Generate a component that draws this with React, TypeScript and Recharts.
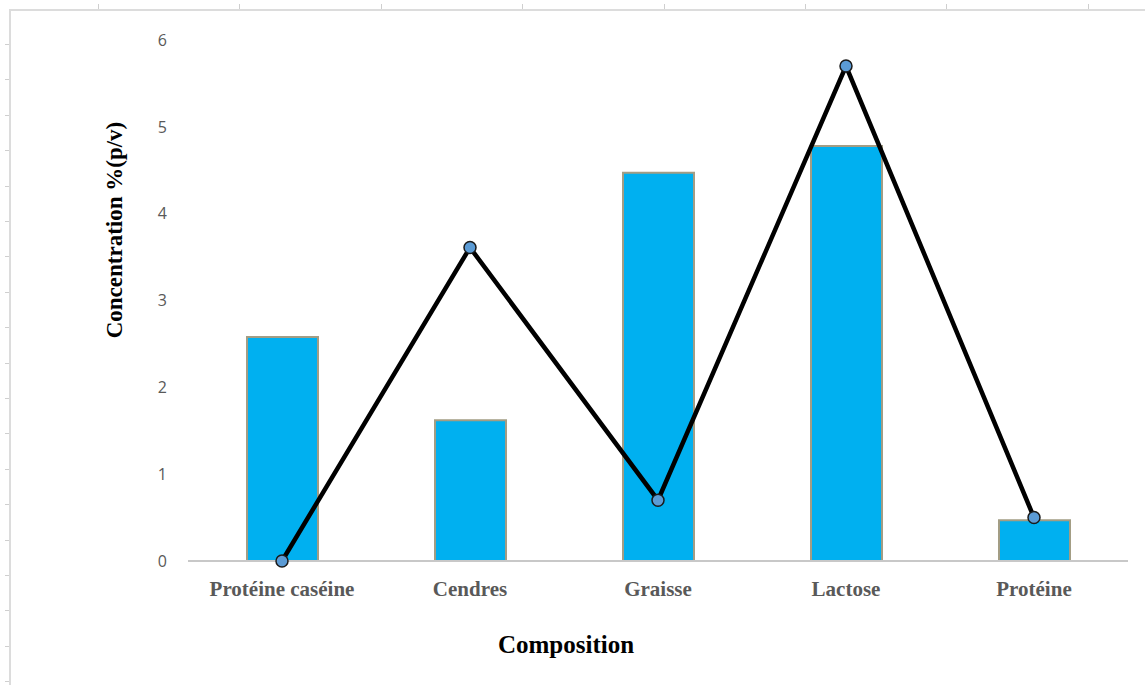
import {
  ComposedChart,
  Bar,
  Line,
  XAxis,
  YAxis,
  Label,
} from "recharts";

// milk composition, % (p/v)
const categories = ["Protéine caséine", "Cendres", "Graisse", "Lactose", "Protéine"];
const barValues = [2.58, 1.62, 4.47, 4.78, 0.47];
const lineValues = [0, 3.61, 0.7, 5.7, 0.5];
const yTicks = [0, 1, 2, 3, 4, 5, 6];

const data = categories.map((name, i) => ({
  name,
  bar: barValues[i],
  line: lineValues[i],
}));

const serif = "'Liberation Serif', 'Times New Roman', serif";

const Frame = () => (
  <>
    {/* light page frame with ruler marks */}
    <div
      style={{
        position: "absolute",
        left: 9,
        top: 9,
        width: 1136,
        height: 676,
        borderTop: "2px solid #dcdcdc",
        borderLeft: "2px solid #dcdcdc",
      }}
    />
    <div
      style={{
        position: "absolute",
        left: 98,
        top: 4,
        width: 1047,
        height: 5,
        background:
          "repeating-linear-gradient(to right, #cfcfcf 0 1px, transparent 1px 141.4px)",
      }}
    />
    <div
      style={{
        position: "absolute",
        left: 5,
        top: 44,
        width: 4,
        height: 641,
        background:
          "repeating-linear-gradient(to bottom, #cfcfcf 0 1px, transparent 1px 35.4px)",
      }}
    />
  </>
);

const App = () => {
  return (
    <div
      style={{
        position: "absolute",
        left: 0,
        top: 0,
        width: 1145,
        height: 685,
        background: "#fff",
      }}
    >
      <Frame />
      <ComposedChart
        width={1145}
        height={685}
        data={data}
        margin={{ top: 40, right: 17, left: 128, bottom: 64 }}
        style={{ position: "absolute", left: 0, top: 0 }}
      >
        <XAxis
          dataKey="name"
          height={60}
          axisLine={{ stroke: "#c8c8c8", strokeWidth: 2 }}
          tickLine={false}
          tickSize={0}
          tickMargin={20}
          interval={0}
          tick={{
            fill: "#595959",
            fontSize: 21,
            fontWeight: 700,
            fontFamily: serif,
          }}
        >
          <Label
            content={() => (
              <text
                x={566}
                y={653}
                textAnchor="middle"
                fill="#000"
                fontSize={25}
                fontWeight={700}
                fontFamily={serif}
              >
                Composition
              </text>
            )}
          />
        </XAxis>
        <YAxis
          domain={[0, 6]}
          ticks={yTicks}
          width={60}
          axisLine={false}
          tickLine={false}
          tickSize={0}
          tickMargin={21}
          tick={{ fill: "#595959", fontSize: 16, fontFamily: "'Open Sans', sans-serif" }}
        >
          <Label
            content={() => (
              <text
                x={114}
                y={230}
                transform="rotate(-90, 114, 230)"
                textAnchor="middle"
                dominantBaseline="central"
                fill="#000"
                fontSize={23}
                fontWeight={700}
                fontFamily={serif}
              >
                Concentration %(p/v)
              </text>
            )}
          />
        </YAxis>
        <Bar
          dataKey="bar"
          barSize={71}
          fill="#00b0f0"
          stroke="#a39d84"
          strokeWidth={2}
          isAnimationActive={false}
        />
        <Line
          dataKey="line"
          type="linear"
          stroke="#000"
          strokeWidth={4.5}
          dot={{ r: 6, fill: "#5b9bd5", stroke: "#1a1a1a", strokeWidth: 1.5 }}
          activeDot={false}
          isAnimationActive={false}
        />
      </ComposedChart>
    </div>
  );
};

export default App;
